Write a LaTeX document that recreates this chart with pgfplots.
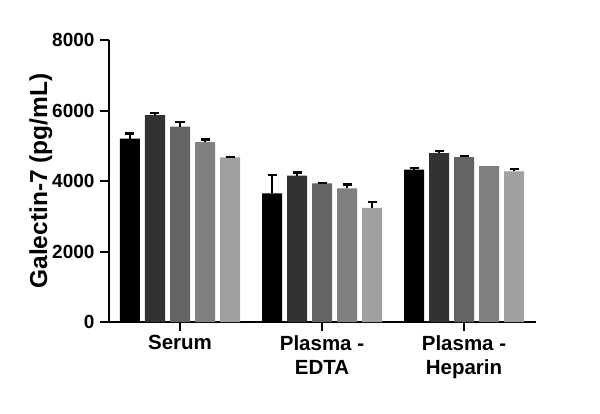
\documentclass[border=0pt]{standalone}
\usepackage{fontspec}
\setmainfont{Liberation Sans}
\usepackage{pgfplots}
\pgfplotsset{compat=1.18}
\definecolor{c1}{RGB}{0,0,0}
\definecolor{c2}{RGB}{50,50,50}
\definecolor{c3}{RGB}{100,100,100}
\definecolor{c4}{RGB}{128,128,128}
\definecolor{c5}{RGB}{160,160,160}
\begin{document}
\begin{tikzpicture}[x=1pt,y=1pt]
\path[use as bounding box] (-109,-91) rectangle (491,322);
\begin{axis}[
  at={(0,0)}, anchor=south west,
  scale only axis, width=427pt, height=282pt,
  xmin=-0.5, xmax=2.507, ymin=0, ymax=8000,
  axis x line*=bottom, axis y line*=left,
  axis line style={line width=2pt, black},
  every tick/.style={line width=2pt, black},
  ytick={0,2000,4000,6000,8000},
  xtick={0,1,2},
  xticklabels={Serum, {Plasma -\\EDTA}, {Plasma -\\Heparin}},
  x tick label style={align=center, font=\fontsize{20.5}{24}\selectfont\bfseries, yshift=-1pt},
  y tick label style={font=\fontsize{19}{20}\selectfont\bfseries, xshift=-2pt},
  /pgf/number format/assume math mode=true,
  /pgf/number format/1000 sep={},
  scaled y ticks=false,
  major tick length=9pt,
  tick align=outside,
  ylabel={Galectin-7 (pg/mL)},
  ylabel style={at={(axis description cs:-0.145,0.5)}, anchor=base, rotate=0, font=\fontsize{24.5}{26}\selectfont\bfseries},
  ybar=5pt, bar width=20pt,
  enlarge x limits=false,
  error bars/y dir=plus, error bars/y explicit,
  error bars/error bar style={line width=2pt, black},
  error bars/error mark options={rotate=90, mark size=4.5pt, line width=2.2pt, black},
]
\addplot[fill=c1, draw=none] coordinates {(0,5200) +- (0,150) (1,3650) +- (0,520) (2,4320) +- (0,50)};
\addplot[fill=c2, draw=none] coordinates {(0,5870) +- (0,60) (1,4150) +- (0,90) (2,4790) +- (0,70)};
\addplot[fill=c3, draw=none] coordinates {(0,5540) +- (0,130) (1,3930) +- (0,20) (2,4680) +- (0,20)};
\addplot[fill=c4, draw=none] coordinates {(0,5100) +- (0,80) (1,3790) +- (0,110) (2,4420)};
\addplot[fill=c5, draw=none] coordinates {(0,4670) +- (0,20) (1,3240) +- (0,160) (2,4270) +- (0,60)};
\end{axis}
\end{tikzpicture}
\end{document}
